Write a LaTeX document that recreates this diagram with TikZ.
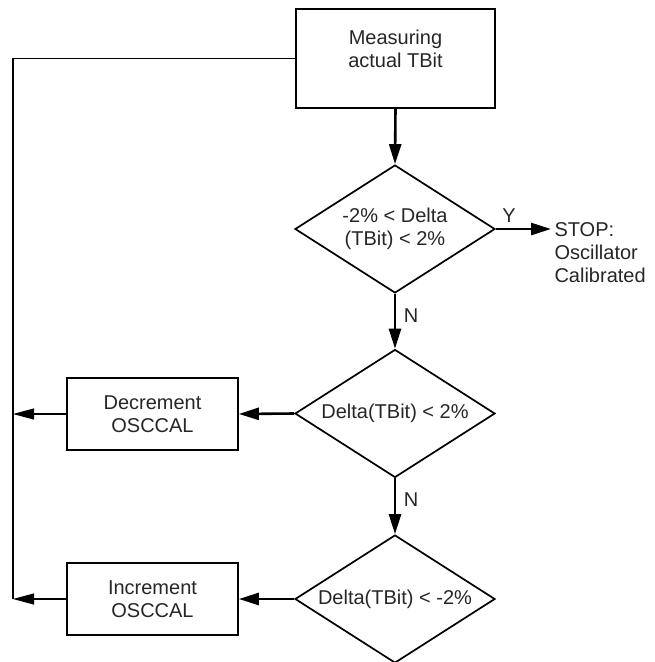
\documentclass[tikz,border=0pt]{standalone}
\usepackage{fontspec}
\setmainfont{Liberation Sans}
\usetikzlibrary{shapes.geometric,arrows.meta}
\begin{document}
\begin{tikzpicture}[x=1pt,y=-1pt,
  lbl/.style={font=\fontsize{20}{23}\selectfont, text=black!85, align=center},
  box/.style={lbl, draw=black, line width=1.7pt, inner sep=0pt},
  dec/.style={lbl, diamond, draw=black, line width=1.7pt, inner sep=0pt,
    aspect=1.56, minimum width=200pt, minimum height=128pt},
  thickarr/.style={line width=2.6pt, -{Triangle[length=20pt,width=12pt]}},
  thinarr/.style={line width=1.1pt, -{Triangle[length=21pt,width=11pt]}},
  thinline/.style={line width=1.1pt}]
\useasboundingbox (0,0) rectangle (654,662);

\node[box, minimum width=199pt, minimum height=99pt] (meas) at (395.5,58.5) {Measuring\\actual TBit\\[-4pt]};
\node[dec] (d1) at (395,229) {-2\% < Delta\\(TBit) < 2\%};
\node[dec] (d2) at (395,413.5) {Delta(TBit) < 2\%};
\node[dec] (d3) at (395,599) {Delta(TBit) < -2\%};
\node[box, minimum width=171pt, minimum height=72pt] (decr) at (152.5,414) {Decrement\\OSCCAL};
\node[box, minimum width=171pt, minimum height=72pt] (incr) at (152.5,599) {Increment\\OSCCAL};
\node[lbl, anchor=west, align=left] (stop) at (551,253) {STOP:\\Oscillator\\Calibrated};
\node[lbl] (ylab) at (509,216) {Y};
\node[lbl] (n1) at (411,316) {N};
\node[lbl] (n2) at (411,500) {N};
\coordinate (bus) at (13,599);

\draw[thickarr] (meas.south) -- (d1.north);
\draw[thickarr] (d1.east) -- (d1.east -| stop.west);
\draw[thickarr] (d1.south) -- (d2.north);
\draw[thickarr] (d2.south) -- (d3.north);
\draw[thickarr] (d2.west) -- (decr.east);
\draw[thickarr] (d3.west) -- (incr.east);
\draw[thinline] (meas.west) -| (bus);
\draw[thinarr] (decr.west) -- (decr.west -| bus);
\draw[thinarr] (incr.west) -- (bus);
\end{tikzpicture}
\end{document}
